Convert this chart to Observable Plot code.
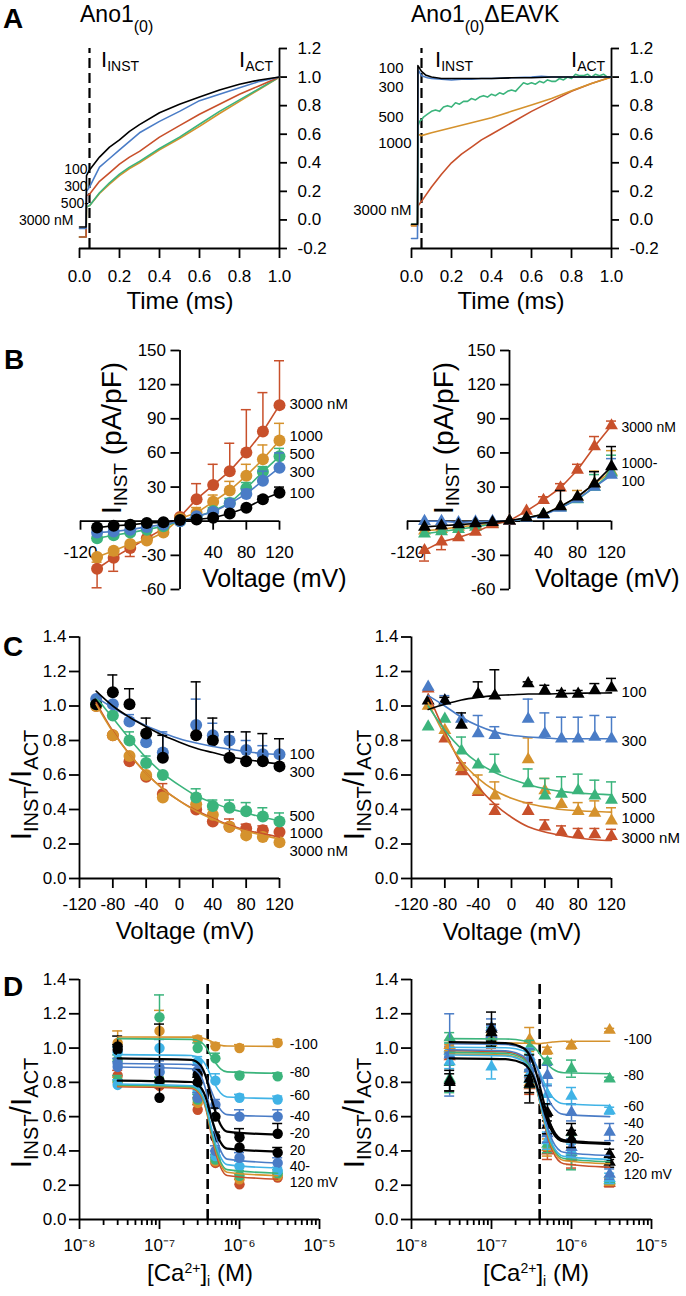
<!DOCTYPE html>
<html><head><meta charset="utf-8">
<script src="https://cdn.jsdelivr.net/npm/d3@7"></script>
<script src="https://cdn.jsdelivr.net/npm/@observablehq/plot@0.6"></script>
<style>
body{margin:0;background:#fff;}
#fig{position:relative;width:686px;height:1296px;background:#fff;overflow:hidden}
.pl{position:absolute}
.pl svg{overflow:visible}
</style></head><body><div id="fig"></div>
<script>
// ================= DATA =================
// colours
const C_BLACK="#000000", C_BLUE="#4a7cc6", C_GREEN="#3bb47c", C_ORANGE="#d5922d", C_RED="#c8502b", C_LBLUE="#40b3e6";

// ---- Panel A : normalized current traces ----
const tA = [0,0.033,0.035,0.05,0.1,0.15,0.2,0.25,0.3,0.4,0.5,0.6,0.7,0.8,0.9,1.0];
const aL_black  = [-0.05,-0.05,0.31,0.35,0.44,0.51,0.56,0.62,0.667,0.75,0.81,0.86,0.91,0.95,0.98,1.0];
const aL_blue   = [-0.06,-0.06,0.20,0.23,0.37,0.43,0.49,0.55,0.61,0.69,0.76,0.835,0.88,0.925,0.97,1.0];
const aL_red    = [-0.12,-0.12,0.17,0.18,0.27,0.33,0.39,0.44,0.48,0.58,0.66,0.74,0.81,0.88,0.94,1.0];
const aL_green  = [-0.12,-0.12,0.09,0.10,0.19,0.26,0.32,0.37,0.41,0.50,0.58,0.67,0.76,0.84,0.92,1.0];
const aL_orange = [-0.12,-0.12,0.09,0.10,0.185,0.25,0.31,0.36,0.40,0.49,0.57,0.655,0.745,0.83,0.915,1.0];
const aL_labels = ["100","300","500-","3000 nM"];

const aR_black = [[0,-0.03],[0.03,-0.03],[0.032,1.08],[0.05,1.04],[0.07,1.015],[0.1,1.0],[0.15,0.99],[0.2,0.99],[0.3,0.99],[0.4,0.99],[0.5,0.995],[0.6,0.995],[0.7,1.0],[0.8,1.0],[0.9,1.0],[1.0,1.0]];
const aR_blue = [[0,-0.13],[0.03,-0.13],[0.033,1.05],[0.05,1.01],[0.08,0.995],[0.1,0.99],[0.15,0.985],[0.2,0.98],[0.25,0.985],[0.3,0.985],[0.35,0.99],[0.4,0.99],[0.5,0.995],[0.6,1.0],[0.65,1.005],[0.7,1.0],[0.8,1.0],[0.9,1.0],[1.0,1.0]];
const aR_green = [[0,-0.03],[0.03,-0.03],[0.033,0.66],[0.04,0.69],[0.05,0.70],[0.06,0.72],[0.08,0.74],[0.1,0.76],[0.12,0.77],[0.14,0.76],[0.16,0.79],[0.18,0.80],[0.2,0.79],[0.22,0.82],[0.24,0.81],[0.26,0.83],[0.28,0.83],[0.3,0.85],[0.32,0.84],[0.34,0.86],[0.36,0.87],[0.38,0.86],[0.4,0.88],[0.42,0.87],[0.44,0.89],[0.46,0.88],[0.48,0.90],[0.5,0.91],[0.52,0.90],[0.54,0.93],[0.56,0.96],[0.58,0.95],[0.6,0.96],[0.62,0.95],[0.64,0.97],[0.66,0.96],[0.68,0.98],[0.7,0.97],[0.72,0.97],[0.74,0.99],[0.76,0.98],[0.78,1.0],[0.8,0.99],[0.82,1.02],[0.84,1.01],[0.86,1.01],[0.88,1.02],[0.9,1.0],[0.92,1.02],[0.94,1.01],[0.96,1.02],[0.98,1.0],[1.0,1.0]];
const aR_orange = [[0,-0.04],[0.03,-0.04],[0.033,0.60],[0.05,0.59],[0.1,0.61],[0.2,0.645],[0.3,0.68],[0.4,0.715],[0.5,0.76],[0.6,0.805],[0.7,0.85],[0.8,0.905],[0.9,0.955],[1.0,1.0]];
const aR_red = [[0,-0.04],[0.03,-0.04],[0.033,0.10],[0.05,0.13],[0.1,0.23],[0.15,0.32],[0.2,0.40],[0.25,0.46],[0.3,0.51],[0.35,0.56],[0.4,0.60],[0.5,0.68],[0.6,0.76],[0.7,0.83],[0.8,0.90],[0.9,0.955],[1.0,1.0]];
const aR_labels = ["100","300","500","1000","3000 nM"];

const aXTicks = [0,0.2,0.4,0.6,0.8,1.0], aXLabels = ["0.0","0.2","0.4","0.6","0.8","1.0"];
const aYTicks = [-0.2,0,0.2,0.4,0.6,0.8,1.0,1.2], aYLabels = ["-0.2","0.0","0.2","0.4","0.6","0.8","1.0","1.2"];

// ---- Panel B : I-V ----
const vB = [-100,-80,-60,-40,-20,0,20,40,60,80,100,120];
const bL_red = [-41.8,-32,-23.5,-15,-6.5,3.8,19.4,31.8,44,60.3,78.8,102];
const bL_red_err = [-58.5,-44,-31,null,null,null,33,50,68.5,98,113,141];
const bL_orange = [-31.5,-26,-20,-17,-10,2.4,7.4,17,27,40,54.4,71];
const bL_orange_err = [-36,-30,null,null,null,null,12,23,35,50,67,86];
const bL_green = [-15,-12.4,-10,-7.4,-4.4,0,3.8,9,16,29,43.5,57];
const bL_green_err = [null,null,null,null,null,null,6,12,20,34,48,64];
const bL_blue = [-10,-9,-7.4,-5,-3,0,4.4,8,15.6,24,35.6,47];
const bL_blue_err = [null,null,null,null,null,null,null,null,null,28,44,60];
const bL_black = [-5.6,-4,-3.2,-1.5,-1,1,1.5,3,6.8,11.8,19.4,25];
const bL_black_err = [null,null,null,null,null,null,null,null,null,null,22,30];
const bL_labels = ["3000 nM","1000","500","300","100"];

const bR_red = [-25.6,-18,-14.4,-9.4,-3,0.5,9,18.5,29.4,45,65.6,84];
const bR_red_err = [-35,-25,null,null,null,null,null,21.5,33,50,74.4,88];
const bR_orange = [-8.5,-7,-5,-3.5,-2,0,3,6,13,21,33,43.5];
const bR_orange_err = [null,null,null,null,null,null,null,null,null,27,44,62];
const bR_green = [-11,-9,-7,-5,-2.5,0,2.5,6,12,19,30,42.6];
const bR_green_err = [null,null,null,null,null,null,null,null,null,null,41,58];
const bR_blue = [0,0,-1,-0.5,0,0,2.5,5.5,11.5,19.5,30,40.6];
const bR_blue_err = [null,null,null,null,null,null,null,null,null,null,null,55];
const bR_black = [-5,-4,-3,-2,-1,0.5,3,6,13,21.5,33,48];
const bR_black_err = [null,null,null,null,null,null,null,null,27,null,43.5,65.6];
const bR_labels = ["3000 nM","1000-","100"];

const bYTicks = [-60,-30,0,30,60,90,120,150];
const bYLabelVals = [-60,-30,30,60,90,120,150], bYLabels = ["-60","-30","30","60","90","120","150"];
const bXTicks = [-120,-80,-40,40,80,120];
const bXLabelVals = [-120,40,80,120], bXLabels = ["-120","40","80","120"];

// ---- Panel C : I_INST/I_ACT vs V ----
const vC = [-100,-80,-60,-40,-20,20,40,60,80,100,120];
const vFit = [-100,-80,-60,-40,-20,0,20,40,60,80,100,120];
const cL_black = [1.01,1.08,1.01,0.84,0.70,0.83,0.80,0.70,0.68,0.68,0.65];
const cL_black_err = [null,1.18,1.10,0.93,0.83,1.14,0.93,0.85,0.85,0.84,0.81];
const cL_blue = [1.04,1.01,0.91,0.79,0.73,0.89,0.83,0.80,0.745,0.72,0.72];
const cL_blue_err = [null,null,0.95,null,0.85,1.04,0.90,0.85,0.80,0.77,0.73];
const cL_green = [1.01,0.945,0.80,0.67,0.60,0.47,0.42,0.41,0.39,0.36,0.33];
const cL_green_err = [null,null,0.85,0.71,null,0.52,0.455,0.455,0.44,0.41,0.38];
const cL_red = [1.0,0.83,0.68,0.59,0.49,0.40,0.33,0.30,0.29,0.28,0.27];
const cL_red_err = [null,null,null,null,0.55,null,null,0.345,0.315,0.305,null];
const cL_orange = [1.0,0.83,0.71,0.60,0.47,0.43,0.37,0.30,0.25,0.24,0.21];
const cL_orange_err = [null,null,null,null,null,0.49,0.40,null,null,null,null];
const cL_fit_black = [1.086,1.0,0.935,0.88,0.83,0.79,0.755,0.73,0.706,0.69,0.676,0.664];
const cL_fit_blue = [1.05,0.99,0.935,0.885,0.845,0.81,0.785,0.765,0.75,0.735,0.725,0.718];
const cL_fit_green = [1.05,0.93,0.81,0.70,0.61,0.54,0.48,0.44,0.405,0.38,0.355,0.335];
const cL_fit_orange = [1.01,0.85,0.72,0.61,0.52,0.45,0.39,0.345,0.305,0.275,0.25,0.23];
const cL_fit_red = [1.02,0.855,0.72,0.61,0.52,0.45,0.395,0.35,0.31,0.28,0.26,0.24];
const cL_labels = ["100","300","500","1000","3000 nM"];

const cR_black = [1.03,1.03,0.89,1.07,1.06,1.13,1.09,1.07,1.07,1.09,1.105];
const cR_black_err = [null,1.05,0.96,1.14,1.21,1.14,1.12,1.09,1.09,1.13,1.16];
const cR_blue = [1.11,1.03,0.925,0.84,0.83,0.925,0.84,0.81,0.81,0.82,0.81];
const cR_blue_err = [null,1.06,null,0.945,0.88,1.04,0.96,0.935,0.935,0.945,0.935];
const cR_green = [0.88,0.925,0.74,0.66,0.635,0.55,0.48,0.49,0.51,0.48,0.455];
const cR_green_err = [null,null,0.82,null,0.72,0.635,0.58,0.59,0.605,0.57,0.56];
const cR_orange = [1.0,0.86,0.645,0.51,0.48,0.69,0.51,0.43,0.39,0.38,0.335];
const cR_orange_err = [null,null,null,0.60,0.56,0.815,0.58,null,0.44,0.45,0.41];
const cR_red = [1.1,0.81,0.62,0.50,0.39,0.39,0.30,0.27,0.255,0.255,0.245];
const cR_red_err = [null,null,0.67,null,0.43,0.44,0.34,0.305,0.29,0.29,0.285];
const cR_fit_black = [0.98,1.01,1.035,1.05,1.06,1.065,1.07,1.07,1.072,1.074,1.075,1.076];
const cR_fit_blue = [1.06,1.0,0.935,0.885,0.85,0.83,0.82,0.815,0.81,0.81,0.81,0.81];
const cR_fit_green = [1.0,0.86,0.75,0.67,0.615,0.575,0.545,0.52,0.505,0.495,0.49,0.485];
const cR_fit_orange = [1.02,0.83,0.68,0.58,0.51,0.465,0.435,0.415,0.40,0.393,0.388,0.385];
const cR_fit_red = [1.07,0.85,0.66,0.53,0.43,0.355,0.30,0.27,0.25,0.235,0.225,0.22];
const cR_labels = ["100","300","500","1000","3000 nM"];

const cYTicks = [0,0.2,0.4,0.6,0.8,1.0,1.2,1.4], cYLabels = ["0.0","0.2","0.4","0.6","0.8","1.0","1.2","1.4"];
const cXTicks = [-120,-80,-40,0,40,80,120], cXLabels = ["-120","-80","-40","0","40","80","120"];

// ---- Panel D : I_INST/I_ACT vs [Ca2+] ----
const caD = [3e-8,1e-7,3e-7,5e-7,1e-6,3e-6];
const dVolt = ["-100","-80","-60","-40","-20","20","40","60","80","100","120"];
const dColors = [C_ORANGE,C_GREEN,C_LBLUE,C_BLUE,C_BLACK,C_BLACK,C_BLUE,C_LBLUE,C_GREEN,C_ORANGE,C_RED];
const dL_vals = [
  [1.03,1.10,1.05,1.01,1.0,1.03],
  [0.93,1.18,1.0,0.94,0.84,0.835],
  [0.975,1.0,0.92,0.81,0.71,0.70],
  [0.91,0.885,0.87,0.67,0.60,0.60],
  [1.01,0.81,0.845,0.60,0.48,0.50],
  [0.99,0.71,0.80,0.48,0.42,0.39],
  [0.89,0.86,0.71,0.40,0.36,0.33],
  [0.785,0.86,0.75,0.37,0.31,0.285],
  [0.81,0.80,0.70,0.35,0.255,0.27],
  [0.80,0.80,0.68,0.34,0.235,0.255],
  [0.84,0.78,0.64,0.33,0.205,0.245]];
const dL_sem = [
  [0.07,0.12,0.02,0.02,0.02,0.02],
  [0.03,0.13,0.03,0.03,0.02,0.02],
  [0.03,0.05,0.03,0.04,0.02,0.02],
  [0.03,0.04,0.03,0.03,0.04,0.04],
  [0.06,0.33,0.03,0.05,0.05,0.06],
  [0.03,0.06,0.03,0.03,0.08,0.03],
  [0.03,0.03,0.03,0.03,0.03,0.03],
  [0.03,0.03,0.03,0.03,0.03,0.02],
  [0.03,0.03,0.03,0.03,0.03,0.02],
  [0.03,0.03,0.03,0.03,0.03,0.02],
  [0.03,0.03,0.03,0.03,0.03,0.02]];
const caFitL = [3e-8,2.5e-7,3.3e-7,3.9e-7,4.4e-7,5e-7,5.8e-7,7e-7,3e-6];
const dL_fit = [
  [1.065,1.064,1.06,1.05,1.04,1.027,1.017,1.012,1.01],
  [1.055,1.051,1.035,0.998,0.954,0.914,0.879,0.861,0.853],
  [0.962,0.957,0.936,0.890,0.834,0.782,0.738,0.715,0.705],
  [0.91,0.904,0.879,0.823,0.755,0.693,0.640,0.612,0.60],
  [0.94,0.931,0.896,0.815,0.718,0.629,0.553,0.513,0.495],
  [0.81,0.802,0.769,0.694,0.603,0.520,0.450,0.413,0.396],
  [0.89,0.879,0.834,0.733,0.61,0.498,0.403,0.352,0.33],
  [0.79,0.780,0.741,0.653,0.545,0.447,0.364,0.320,0.30],
  [0.785,0.775,0.734,0.641,0.528,0.425,0.337,0.291,0.27],
  [0.78,0.770,0.728,0.633,0.518,0.413,0.323,0.276,0.255],
  [0.775,0.764,0.721,0.624,0.505,0.397,0.305,0.257,0.235]];
const dL_labels = ["-100","-80","-60","-40","-20","20","40-","120 mV"];

const dR_vals = [
  [1.015,1.05,1.05,0.985,1.015,1.105],
  [1.06,1.04,1.005,0.92,0.88,0.82],
  [0.92,0.89,0.95,0.73,0.72,0.635],
  [0.96,1.12,0.935,0.84,0.625,0.51],
  [0.81,1.11,0.82,0.625,0.51,0.38],
  [0.80,1.09,0.79,0.55,0.47,0.335],
  [0.98,1.08,0.88,0.50,0.42,0.265],
  [1.0,1.06,0.85,0.46,0.40,0.24],
  [0.82,1.07,0.82,0.44,0.39,0.23],
  [0.99,1.03,0.80,0.42,0.37,0.22],
  [0.95,1.05,0.78,0.40,0.36,0.21]];
const dR_sem = [
  [0.03,0.03,0.07,0.02,0.02,0.01],
  [0.03,0.03,0.04,0.02,0.05,0.01],
  [0.04,0.07,0.05,0.06,0.05,0.02],
  [0.24,0.05,0.06,0.06,0.05,0.05],
  [0.06,0.10,0.14,0.05,0.05,0.03],
  [0.05,0.05,0.05,0.05,0.05,0.03],
  [0.03,0.05,0.06,0.05,0.05,0.03],
  [0.03,0.05,0.05,0.05,0.04,0.03],
  [0.08,0.05,0.05,0.05,0.10,0.02],
  [0.03,0.05,0.06,0.05,0.05,0.02],
  [0.05,0.05,0.05,0.05,0.06,0.02]];
const caFitR = [3e-8,1.5e-7,2.5e-7,3.2e-7,3.7e-7,4.2e-7,4.8e-7,5.8e-7,8e-7,3e-6];
const dR_fit = [
  [1.03,1.03,1.028,1.027,1.026,1.027,1.03,1.035,1.04,1.04],
  [1.055,1.053,1.043,1.018,0.987,0.953,0.916,0.879,0.856,0.85],
  [1.005,1.002,0.985,0.944,0.893,0.835,0.774,0.713,0.675,0.665],
  [1.025,1.021,0.999,0.949,0.885,0.813,0.736,0.660,0.613,0.60],
  [1.035,1.029,1.0,0.929,0.840,0.740,0.634,0.528,0.463,0.445],
  [0.94,0.935,0.91,0.85,0.775,0.69,0.60,0.51,0.455,0.44],
  [0.99,0.984,0.953,0.879,0.786,0.682,0.570,0.459,0.392,0.373],
  [0.96,0.954,0.923,0.850,0.759,0.655,0.545,0.435,0.368,0.35],
  [0.975,0.969,0.937,0.860,0.764,0.656,0.541,0.426,0.356,0.337],
  [0.965,0.959,0.927,0.850,0.754,0.645,0.530,0.415,0.344,0.325],
  [0.985,0.978,0.944,0.863,0.761,0.645,0.523,0.400,0.325,0.305]];
const dR_labels = ["-100","-80","-60","-40","-20","20-","120 mV"];

const caHalf = 4e-7; // dashed marker
const dXMajor = [1e-8,1e-7,1e-6,1e-5], dXLabels = ["10\u207B\u2078","10\u207B\u2077","10\u207B\u2076","10\u207B\u2075"];
const dXMinor = [2e-8,3e-8,4e-8,5e-8,6e-8,7e-8,8e-8,9e-8,2e-7,3e-7,4e-7,5e-7,6e-7,7e-7,8e-7,9e-7,2e-6,3e-6,4e-6,5e-6,6e-6,7e-6,8e-6,9e-6];

// ================= DRAWING =================
const fig = document.getElementById("fig");
const FONT = '"Liberation Sans", Arial, Helvetica, sans-serif';
const AXW = 1.8, TF = 17, LF = 15, LFS = 14;

function panel({left, top, w, h, fx, fy, x, y, marks}) {
  const p = Plot.plot({
    width: w, height: h,
    marginLeft: fx[0] - left, marginRight: left + w - fx[1],
    marginTop: fy[1] - top, marginBottom: top + h - fy[0],
    x: {axis: null, ...x}, y: {axis: null, ...y},
    style: {fontFamily: FONT, fontSize: TF + "px", background: "transparent", overflow: "visible", color: "black"},
    marks
  });
  const d = document.createElement("div");
  d.className = "pl"; d.style.left = left + "px"; d.style.top = top + "px"; d.style.width = w + "px"; d.style.height = h + "px";
  d.appendChild(p); fig.appendChild(d);
}
const AX = {stroke: "black", strokeWidth: AXW};
const hLine = (y, x1, x2) => Plot.ruleY([y], {x1, x2, ...AX});
const vLine = (x, y1, y2) => Plot.ruleX([x], {y1, y2, ...AX});
const ticksDown = (vals, y, len) => Plot.ruleX(vals, {x: d => d, y1: y, y2: y, insetBottom: -len, ...AX});
const ticksLeft = (vals, x, len) => Plot.ruleY(vals, {y: d => d, x1: x, x2: x, insetLeft: -len, ...AX});
const ticksRight = (vals, x, len) => Plot.ruleY(vals, {y: d => d, x1: x, x2: x, insetRight: -len, ...AX});
const labBelow = (vals, labels, y, dy) => Plot.text(vals, {x: d => d, y, text: (d, i) => labels[i], dy, fontSize: TF});
const labLeft = (vals, labels, x, dx) => Plot.text(vals, {x, y: d => d, text: (d, i) => labels[i], dx, textAnchor: "end", fontSize: TF});
const labRight = (vals, labels, x, dx) => Plot.text(vals, {x, y: d => d, text: (d, i) => labels[i], dx, textAnchor: "start", fontSize: TF});
const zip = (xs, ys) => xs.map((x, i) => [x, ys[i]]);

function series(xs, ys, errs, color, {symbol = "circle", r = 6, line = true, lw = 1.6} = {}) {
  const pts = xs.map((x, i) => ({x, y: ys[i], e: errs ? errs[i] : null}));
  const ep = pts.filter(d => d.e != null);
  return [
    Plot.ruleX(ep, {x: "x", y1: "y", y2: "e", stroke: color, strokeWidth: 1.5}),
    Plot.ruleY(ep, {y: "e", x1: "x", x2: "x", insetLeft: -5, insetRight: -5, stroke: color, strokeWidth: 1.5}),
    line ? Plot.line(pts, {x: "x", y: "y", stroke: color, strokeWidth: lw}) : null,
    Plot.dot(pts, {x: "x", y: "y", fill: color, r, symbol})
  ];
}
const fitLine = (xs, ys, color, w = 1.6) => Plot.line(zip(xs, ys), {x: d => d[0], y: d => d[1], stroke: color, strokeWidth: w, curve: "monotone-x"});
const trace = (pairs, color) => Plot.line(pairs, {x: d => d[0], y: d => d[1], stroke: color, strokeWidth: 1.6});

// ---------- A ----------
function aAxes() {
  return [
    hLine(-0.2, 0, 1), vLine(1, -0.2, 1.2),
    ticksDown(aXTicks, -0.2, 10), labBelow(aXTicks, aXLabels, -0.2, 28),
    ticksRight(aYTicks, 1, 8), labRight(aYTicks, aYLabels, 1, 18),
    Plot.ruleX([0.05], {y1: -0.2, y2: 1.2, stroke: "black", strokeWidth: 2.2, strokeDasharray: "10,5"})
  ];
}
panel({left: 0, top: 0, w: 343, h: 320, fx: [79, 279], fy: [248, 48],
  x: {domain: [0, 1]}, y: {domain: [-0.2, 1.2]},
  marks: [
    ...aAxes(),
    trace(zip(tA, aL_orange), C_ORANGE), trace(zip(tA, aL_green), C_GREEN),
    trace(zip(tA, aL_red), C_RED), trace(zip(tA, aL_blue), C_BLUE), trace(zip(tA, aL_black), C_BLACK),
    Plot.text([[0.04, 0.355, aL_labels[0]], [0.04, 0.235, aL_labels[1]], [0.047, 0.115, aL_labels[2]], [-0.03, -0.005, aL_labels[3]]],
      {x: d => d[0], y: d => d[1], text: d => d[2], textAnchor: "end", fontSize: LFS})
  ]});
panel({left: 343, top: 0, w: 343, h: 320, fx: [411, 611], fy: [248, 48],
  x: {domain: [0, 1]}, y: {domain: [-0.2, 1.2]},
  marks: [
    ...aAxes(),
    trace(aR_red, C_RED), trace(aR_orange, C_ORANGE), trace(aR_green, C_GREEN),
    trace(aR_blue, C_BLUE), trace(aR_black, C_BLACK),
    Plot.text([[-0.04, 1.06, aR_labels[0]], [-0.04, 0.93, aR_labels[1]], [-0.04, 0.72, aR_labels[2]], [0.0, 0.54, aR_labels[3]], [0.0, 0.07, aR_labels[4]]],
      {x: d => d[0], y: d => d[1], text: d => d[2], textAnchor: "end", fontSize: LF})
  ]});

// ---------- B ----------
function bAxes() {
  return [
    hLine(0, -120, 120), vLine(0, -60, 150),
    ticksDown(bXTicks, 0, 9), labBelow(bXLabelVals, bXLabels, 0, 31),
    ticksLeft(bYTicks, 0, 9), labLeft(bYLabelVals, bYLabels, 0, -14)
  ];
}
panel({left: 0, top: 320, w: 343, h: 330, fx: [80, 279], fy: [589, 350],
  x: {domain: [-120, 120]}, y: {domain: [-60, 150]},
  marks: [
    ...bAxes(),
    ...series(vB, bL_red, bL_red_err, C_RED),
    ...series(vB, bL_orange, bL_orange_err, C_ORANGE),
    ...series(vB, bL_green, bL_green_err, C_GREEN),
    ...series(vB, bL_blue, bL_blue_err, C_BLUE),
    ...series(vB, bL_black, bL_black_err, C_BLACK),
    Plot.text([[103, bL_labels[0]], [75, bL_labels[1]], [59, bL_labels[2]], [43.4, bL_labels[3]], [24.3, bL_labels[4]]],
      {x: 120, y: d => d[0], text: d => d[1], dx: 10, textAnchor: "start", fontSize: LF})
  ]});
panel({left: 343, top: 320, w: 343, h: 330, fx: [407, 611], fy: [589, 350],
  x: {domain: [-120, 120]}, y: {domain: [-60, 150]},
  marks: [
    ...bAxes(),
    ...series(vB, bR_orange, bR_orange_err, C_ORANGE, {symbol: "triangle", r: 4.8}),
    ...series(vB, bR_green, bR_green_err, C_GREEN, {symbol: "triangle", r: 4.8}),
    ...series(vB, bR_blue, bR_blue_err, C_BLUE, {symbol: "triangle", r: 4.8}),
    ...series(vB, bR_red, bR_red_err, C_RED, {symbol: "triangle", r: 4.8}),
    ...series(vB, bR_black, bR_black_err, C_BLACK, {symbol: "triangle", r: 4.8}),
    Plot.text([[82, bR_labels[0]], [51, bR_labels[1]], [35, bR_labels[2]]],
      {x: 120, y: d => d[0], text: d => d[1], dx: 10, textAnchor: "start", fontSize: LFS})
  ]});

// ---------- C ----------
function cAxes() {
  return [
    hLine(0, -120, 120), vLine(-120, 0, 1.4),
    ticksDown(cXTicks, 0, 10), labBelow(cXTicks, cXLabels, 0, 26),
    ticksLeft(cYTicks, -120, 10), labLeft(cYTicks, cYLabels, -120, -13)
  ];
}
panel({left: 0, top: 620, w: 343, h: 340, fx: [79, 279], fy: [878, 636.5],
  x: {domain: [-120, 120]}, y: {domain: [0, 1.4]},
  marks: [
    ...cAxes(),
    ...series(vC, cL_red, cL_red_err, C_RED, {line: false}),
    ...series(vC, cL_orange, cL_orange_err, C_ORANGE, {line: false}),
    ...series(vC, cL_green, cL_green_err, C_GREEN, {line: false}),
    ...series(vC, cL_blue, cL_blue_err, C_BLUE, {line: false}),
    ...series(vC, cL_black, cL_black_err, C_BLACK, {line: false}),
    fitLine(vFit, cL_fit_red, C_RED), fitLine(vFit, cL_fit_orange, C_ORANGE),
    fitLine(vFit, cL_fit_green, C_GREEN), fitLine(vFit, cL_fit_blue, C_BLUE), fitLine(vFit, cL_fit_black, C_BLACK),
    Plot.text([[0.72, cL_labels[0]], [0.615, cL_labels[1]], [0.362, cL_labels[2]], [0.262, cL_labels[3]], [0.16, cL_labels[4]]],
      {x: 120, y: d => d[0], text: d => d[1], dx: 10, textAnchor: "start", fontSize: LF})
  ]});
const TRI = {symbol: "triangle", r: 4.8, line: false};
panel({left: 343, top: 620, w: 343, h: 340, fx: [411, 611], fy: [878, 636.5],
  x: {domain: [-120, 120]}, y: {domain: [0, 1.4]},
  marks: [
    ...cAxes(),
    ...series(vC, cR_red, cR_red_err, C_RED, TRI),
    ...series(vC, cR_orange, cR_orange_err, C_ORANGE, TRI),
    ...series(vC, cR_green, cR_green_err, C_GREEN, TRI),
    ...series(vC, cR_blue, cR_blue_err, C_BLUE, TRI),
    ...series(vC, cR_black, cR_black_err, C_BLACK, TRI),
    fitLine(vFit, cR_fit_red, C_RED), fitLine(vFit, cR_fit_orange, C_ORANGE),
    fitLine(vFit, cR_fit_green, C_GREEN), fitLine(vFit, cR_fit_blue, C_BLUE), fitLine(vFit, cR_fit_black, C_BLACK),
    Plot.text([[1.08, cR_labels[0]], [0.795, cR_labels[1]], [0.464, cR_labels[2]], [0.348, cR_labels[3]], [0.232, cR_labels[4]]],
      {x: 120, y: d => d[0], text: d => d[1], dx: 10, textAnchor: "start", fontSize: LF})
  ]});

// ---------- D ----------
const dOrder = [10, 9, 8, 7, 6, 0, 1, 2, 3, 5, 4];
function dAxes() {
  return [
    hLine(0, 1e-8, 1e-5), vLine(1e-8, 0, 1.4),
    ticksDown(dXMajor, 0, 10), ticksDown(dXMinor, 0, 6),
    labBelow(dXMajor, dXLabels, 0, 26),
    ticksLeft(cYTicks, 1e-8, 10), labLeft(cYTicks, cYLabels, 1e-8, -13),
    Plot.ruleX([caHalf], {y1: 0, y2: 1.4, stroke: "black", strokeWidth: 2.6, strokeDasharray: "10,5"})
  ];
}
function dMarks(vals, sem, fitX, fits, both, sym, r) {
  const out = [];
  for (const k of dOrder) {
    const c = dColors[k];
    const pts = caD.map((x, i) => ({x, y: vals[k][i], hi: vals[k][i] + sem[k][i], lo: both ? vals[k][i] - sem[k][i] : vals[k][i]}));
    out.push(Plot.ruleX(pts, {x: "x", y1: "lo", y2: "hi", stroke: c, strokeWidth: 1.5}));
    out.push(Plot.ruleY(pts, {y: "hi", x1: "x", x2: "x", insetLeft: -5, insetRight: -5, stroke: c, strokeWidth: 1.5}));
    if (both) out.push(Plot.ruleY(pts, {y: "lo", x1: "x", x2: "x", insetLeft: -5, insetRight: -5, stroke: c, strokeWidth: 1.5}));
    out.push(Plot.dot(pts, {x: "x", y: "y", fill: c, r, symbol: sym}));
  }
  for (const k of dOrder) out.push(fitLine(fitX, fits[k], dColors[k], dColors[k] === C_BLACK ? 2.2 : 1.6));
  return out;
}
panel({left: 0, top: 960, w: 343, h: 336, fx: [79, 319], fy: [1219, 979],
  x: {type: "log", domain: [1e-8, 1e-5]}, y: {domain: [0, 1.4]},
  marks: [
    ...dAxes(),
    ...dMarks(dL_vals, dL_sem, caFitL, dL_fit, false, "circle", 5.2),
    Plot.text([[1.02, dL_labels[0]], [0.857, dL_labels[1]], [0.723, dL_labels[2]], [0.60, dL_labels[3]], [0.501, dL_labels[4]], [0.405, dL_labels[5]], [0.309, dL_labels[6]], [0.213, dL_labels[7]]],
      {x: 3e-6, y: d => d[0], text: d => d[1], dx: 12, textAnchor: "start", fontSize: LFS})
  ]});
panel({left: 343, top: 960, w: 343, h: 336, fx: [411, 651], fy: [1219, 979],
  x: {type: "log", domain: [1e-8, 1e-5]}, y: {domain: [0, 1.4]},
  marks: [
    ...dAxes(),
    ...dMarks(dR_vals, dR_sem, caFitR, dR_fit, true, "triangle", 4.6),
    Plot.text([[1.05, dR_labels[0]], [0.84, dR_labels[1]], [0.659, dR_labels[2]], [0.56, dR_labels[3]], [0.461, dR_labels[4]], [0.362, dR_labels[5]], [0.262, dR_labels[6]]],
      {x: 3e-6, y: d => d[0], text: d => d[1], dx: 14, textAnchor: "start", fontSize: LFS})
  ]});

// ================= TEXT OVERLAY (titles with sub/superscripts) =================
const ov = d3.create("svg").attr("width", 686).attr("height", 1296)
  .style("position", "absolute").style("left", "0").style("top", "0")
  .style("font-family", FONT).style("overflow", "visible").style("pointer-events", "none");
function rich(x, y, parts, {anchor = "start", rotate = 0, weight = null} = {}) {
  const t = ov.append("text").attr("x", x).attr("y", y).attr("text-anchor", anchor).attr("fill", "black");
  if (weight) t.attr("font-weight", weight);
  if (rotate) t.attr("transform", `rotate(${rotate} ${x} ${y})`);
  let cur = 0;
  for (const [s, fs, off] of parts) {
    t.append("tspan").attr("font-size", fs).attr("dy", off - cur).text(s);
    cur = off;
  }
}
// panel letters
rich(3, 28, [["A", 28, 0]], {weight: "bold"});
rich(4, 369, [["B", 28, 0]], {weight: "bold"});
rich(3, 656, [["C", 28, 0]], {weight: "bold"});
rich(3, 996, [["D", 28, 0]], {weight: "bold"});
// titles
rich(80, 22, [["Ano1", 23, 0], ["(0)", 16, 10]]);
rich(411, 22, [["Ano1", 23, 0], ["(0)", 16, 10], ["\u0394EAVK", 23, 0]]);
// I_INST / I_ACT in A
const iinst = [["I", 22, 0], ["INST", 14, 4]], iact = [["I", 22, 0], ["ACT", 14, 4]];
rich(101, 67, iinst); rich(239, 67, iact);
rich(435, 67, iinst); rich(571, 67, iact);
// x titles
rich(180, 309, [["Time (ms)", 24, 0]], {anchor: "middle"});
rich(511, 309, [["Time (ms)", 24, 0]], {anchor: "middle"});
rich(202, 587, [["Voltage (mV)", 25, 0]]);
rich(535, 587, [["Voltage (mV)", 25, 0]]);
rich(185, 939, [["Voltage (mV)", 24, 0]], {anchor: "middle"});
rich(512, 940, [["Voltage (mV)", 24, 0]], {anchor: "middle"});
const caT = [["[Ca", 24, 0], ["2+", 14, -8], ["]", 24, 0], ["i", 14, 5], ["\u00a0(M)", 24, 0]];
rich(200, 1281, caT, {anchor: "middle"});
rich(536, 1281, caT, {anchor: "middle"});
// y titles
const ivT = [["I", 28, 0], ["INST", 19, 6], ["\u00a0(pA/pF)", 28, 0]];
rich(121, 438, ivT, {anchor: "middle", rotate: -90});
rich(453, 438, ivT, {anchor: "middle", rotate: -90});
const ratioT = [["I", 30, 0], ["INST", 20, 7], ["/", 30, 0], ["I", 30, 0], ["ACT", 20, 7]];
rich(31, 785, ratioT, {anchor: "middle", rotate: -90});
rich(364, 785, ratioT, {anchor: "middle", rotate: -90});
rich(31, 1113, ratioT, {anchor: "middle", rotate: -90});
rich(364, 1113, ratioT, {anchor: "middle", rotate: -90});
fig.appendChild(ov.node());
</script></body></html>
